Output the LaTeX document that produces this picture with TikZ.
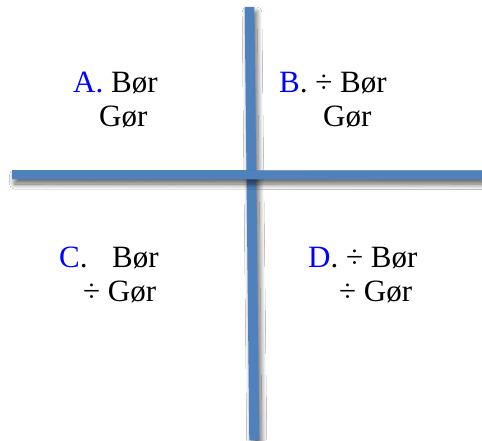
\documentclass[tikz,border=0pt]{standalone}
\usepackage{fontspec}
\setmainfont{Liberation Serif}
\usetikzlibrary{shadows.blur}
\definecolor{barblue}{HTML}{4F81BD}
\definecolor{lblblue}{HTML}{0000FF}
\tikzset{
  bar/.style={fill=barblue, draw=none,
    blur shadow={shadow xshift=2.5pt, shadow yshift=-5pt, shadow blur radius=5pt, shadow blur steps=12, shadow opacity=60}},
  txt/.style={inner sep=0pt, anchor=base west, font=\fontsize{31}{35}\selectfont}
}
\begin{document}
\begin{tikzpicture}[x=1pt,y=-1pt]
\useasboundingbox (0,0) rectangle (482,441);
\fill[white] (0,0) rectangle (482,441);
% vertical bar
\path[bar] (244.7,7) -- (254.3,7) -- (259.3,440) -- (249.3,440) -- cycle;
% horizontal bar
\path[bar] (12,170) -- (482,170.5) -- (482,179.5) -- (12,179) -- cycle;
% A
\node[txt] (a1) at (73,93) {\textcolor{lblblue}{A.} Bør};
\node[txt] (a2) at (99,127) {Gør};
% B
\node[txt] (b1) at (279,93) {\textcolor{lblblue}{B}. ÷ Bør};
\node[txt] (b2) at (323,127) {Gør};
% C
\node[txt] (c1) at (59,267) {\textcolor{lblblue}{C}.};
\node[txt] (c2) at (112,267) {Bør};
\node[txt] (c3) at (83,301) {÷ Gør};
% D
\node[txt] (d1) at (308,267) {\textcolor{lblblue}{D}. ÷ Bør};
\node[txt] (d2) at (339,301) {÷ Gør};
\end{tikzpicture}
\end{document}
